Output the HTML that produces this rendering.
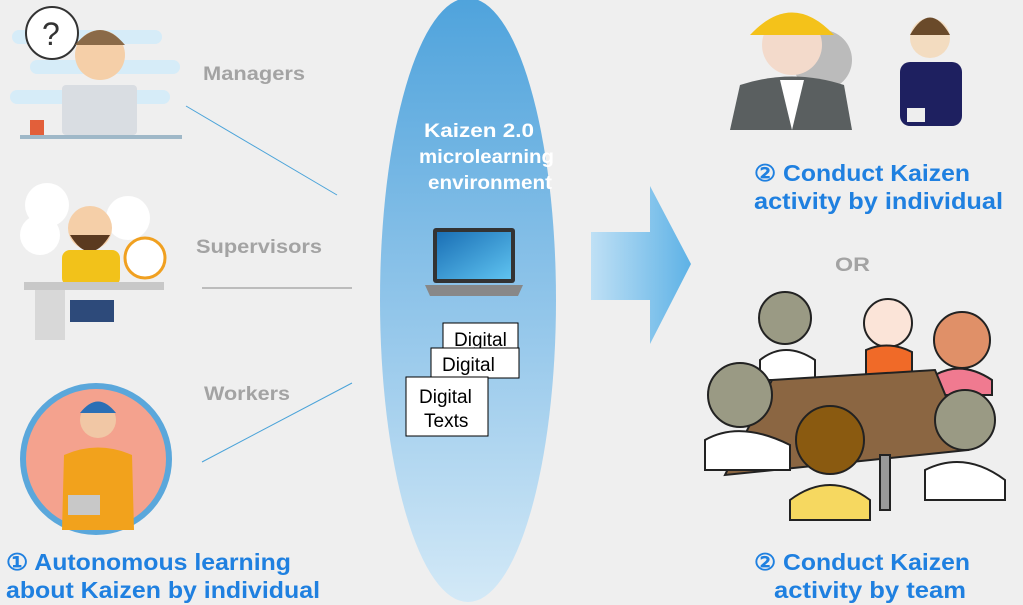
<!DOCTYPE html>
<html><head><meta charset="utf-8"><style>
html,body{margin:0;padding:0;background:#efefef;}
svg{display:block;font-family:"Liberation Sans",sans-serif;}
</style></head><body>
<svg width="1023" height="605" viewBox="0 0 1023 605">
<defs>
<linearGradient id="eg" x1="0" y1="0" x2="0" y2="1">
<stop offset="0" stop-color="#4fa3dc"/><stop offset="0.6" stop-color="#9ccbec"/><stop offset="1" stop-color="#d3e9f7"/></linearGradient>
<linearGradient id="ag" x1="0" y1="0" x2="1" y2="0">
<stop offset="0" stop-color="#bfe0f5"/><stop offset="1" stop-color="#5eb2e6"/></linearGradient>
<linearGradient id="scr" x1="0" y1="0" x2="1" y2="1"><stop offset="0" stop-color="#1a6fb5"/><stop offset="1" stop-color="#5fc3f0"/></linearGradient>
</defs>
<rect width="1023" height="605" fill="#efefef"/>

<ellipse cx="468" cy="300" rx="88" ry="302" fill="url(#eg)"/>
<g fill="#fff" font-weight="bold" font-size="19">
<text x="424" y="137" textLength="110" lengthAdjust="spacingAndGlyphs">Kaizen 2.0</text>
<text x="419" y="163" textLength="135" lengthAdjust="spacingAndGlyphs">microlearning</text>
<text x="428" y="189" textLength="124" lengthAdjust="spacingAndGlyphs">environment</text>
</g>
<g>
<rect x="433" y="228" width="82" height="55" rx="3" fill="#333"/>
<rect x="437" y="232" width="74" height="47" fill="url(#scr)"/>
<path d="M425 285 L523 285 L518 296 L430 296 Z" fill="#888"/>
</g>
<g font-size="19" fill="#000">
<rect x="443" y="323" width="75" height="32" fill="#fff" stroke="#000"/><text x="454" y="346">Digital</text>
<rect x="431" y="348" width="88" height="30" fill="#fff" stroke="#000"/><text x="442" y="371">Digital</text>
<rect x="406" y="377" width="82" height="59" fill="#fff" stroke="#000"/><text x="419" y="403">Digital</text><text x="424" y="427">Texts</text>
</g>

<path d="M591 232 L650 232 L650 186 L691 264 L650 344 L650 300 L591 300 Z" fill="url(#ag)"/>

<g stroke="#4aa3d9" stroke-width="1">
<line x1="186" y1="106" x2="337" y2="195"/>
<line x1="202" y1="288" x2="352" y2="288" stroke="#888"/>
<line x1="202" y1="462" x2="352" y2="383"/>
</g>

<g fill="#a3a3a3" font-weight="bold" font-size="19">
<text x="203" y="80" textLength="102" lengthAdjust="spacingAndGlyphs">Managers</text>
<text x="196" y="253" textLength="126" lengthAdjust="spacingAndGlyphs">Supervisors</text>
<text x="204" y="400" textLength="86" lengthAdjust="spacingAndGlyphs">Workers</text>
<text x="835" y="271" textLength="35" lengthAdjust="spacingAndGlyphs">OR</text>
</g>

<g>
<rect x="12" y="30" width="150" height="14" rx="7" fill="#d6ecf8"/>
<rect x="30" y="60" width="150" height="14" rx="7" fill="#d6ecf8"/>
<rect x="10" y="90" width="160" height="14" rx="7" fill="#d6ecf8"/>
<circle cx="52" cy="33" r="26" fill="#fff" stroke="#333" stroke-width="2"/>
<text x="42" y="45" font-size="32" fill="#333">?</text>
<circle cx="100" cy="55" r="25" fill="#f5cfa8"/>
<path d="M75 45 Q100 15 125 45 Z" fill="#8a6a48"/>
<rect x="62" y="85" width="75" height="50" rx="4" fill="#d9dde2"/>
<rect x="20" y="135" width="162" height="4" fill="#9fb8c8"/>
<rect x="30" y="120" width="14" height="15" fill="#e25f3a"/>
</g>

<g>
<circle cx="47" cy="205" r="22" fill="#fff"/><circle cx="128" cy="218" r="22" fill="#fff"/>
<circle cx="145" cy="258" r="20" fill="#fff" stroke="#f0a020" stroke-width="3"/>
<circle cx="40" cy="235" r="20" fill="#fff"/>
<circle cx="90" cy="228" r="22" fill="#f5cfa8"/>
<path d="M70 235 Q90 268 110 235 Z" fill="#5b3a20"/>
<rect x="62" y="250" width="58" height="36" rx="8" fill="#f2c21a"/>
<rect x="24" y="282" width="140" height="8" fill="#c8c8c8"/>
<rect x="35" y="290" width="30" height="50" fill="#d8d8d8"/>
<rect x="70" y="300" width="44" height="22" fill="#2d4a7a"/>
</g>

<g>
<circle cx="96" cy="459" r="73" fill="#f4a28e" stroke="#5aa7db" stroke-width="6"/>
<circle cx="98" cy="420" r="18" fill="#f1c7a5"/>
<path d="M80 413 Q98 390 116 413 Z" fill="#2a6fb5"/>
<path d="M62 530 L64 455 Q98 440 132 455 L134 530 Z" fill="#f2a21c"/>
<rect x="68" y="495" width="32" height="20" fill="#c8c8c8"/>
</g>

<g>
<circle cx="822" cy="60" r="30" fill="#bbb"/>
<circle cx="792" cy="45" r="30" fill="#f3dacb"/>
<path d="M750 35 Q792 -10 834 35 Z" fill="#f4c21a"/>
<path d="M730 130 L740 85 Q792 68 844 85 L852 130 Z" fill="#5a5f60"/>
<path d="M780 80 L792 130 L804 80 Z" fill="#fff"/>
<circle cx="930" cy="38" r="20" fill="#f3dcc0"/>
<path d="M910 35 Q930 0 950 35 Z" fill="#6a4a2a"/>
<rect x="900" y="62" width="62" height="64" rx="10" fill="#1e2060"/>
<rect x="907" y="108" width="18" height="14" fill="#eee"/>
</g>

<g stroke="#222" stroke-width="2">
<circle cx="785" cy="318" r="26" fill="#9a9a84"/>
<path d="M760 360 Q785 340 815 360 L815 380 L760 380 Z" fill="#fff"/>
<circle cx="888" cy="323" r="24" fill="#fbe4d8"/>
<path d="M866 350 Q888 340 912 352 L912 380 L866 380 Z" fill="#f06a28"/>
<circle cx="962" cy="340" r="28" fill="#e09068"/>
<path d="M935 375 Q962 360 992 380 L992 395 L935 395 Z" fill="#f07a90"/>
<path d="M772 380 L935 370 L968 450 L725 475 Z" fill="#8b6642"/>
<rect x="880" y="455" width="10" height="55" fill="#999"/>
<circle cx="740" cy="395" r="32" fill="#9a9a84"/>
<path d="M705 440 Q740 420 790 445 L790 470 L705 470 Z" fill="#fff"/>
<circle cx="830" cy="440" r="34" fill="#8a5a10"/>
<path d="M790 500 Q830 470 870 500 L870 520 L790 520 Z" fill="#f6d860"/>
<circle cx="965" cy="420" r="30" fill="#9a9a84"/>
<path d="M925 470 Q965 450 1005 480 L1005 500 L925 500 Z" fill="#fff"/>
</g>

<g fill="#1f80e0" font-weight="bold" font-size="23">
<text><tspan x="754" y="181" textLength="216" lengthAdjust="spacingAndGlyphs">② Conduct Kaizen</tspan><tspan x="754" y="209" textLength="249" lengthAdjust="spacingAndGlyphs">activity by individual</tspan></text>
<text><tspan x="754" y="570" textLength="216" lengthAdjust="spacingAndGlyphs">② Conduct Kaizen</tspan><tspan x="774" y="598" textLength="192" lengthAdjust="spacingAndGlyphs">activity by team</tspan></text>
<text><tspan x="6" y="570" textLength="285" lengthAdjust="spacingAndGlyphs">① Autonomous learning</tspan><tspan x="6" y="598" textLength="314" lengthAdjust="spacingAndGlyphs">about Kaizen by individual</tspan></text>
</g>
</svg>
</body></html>
